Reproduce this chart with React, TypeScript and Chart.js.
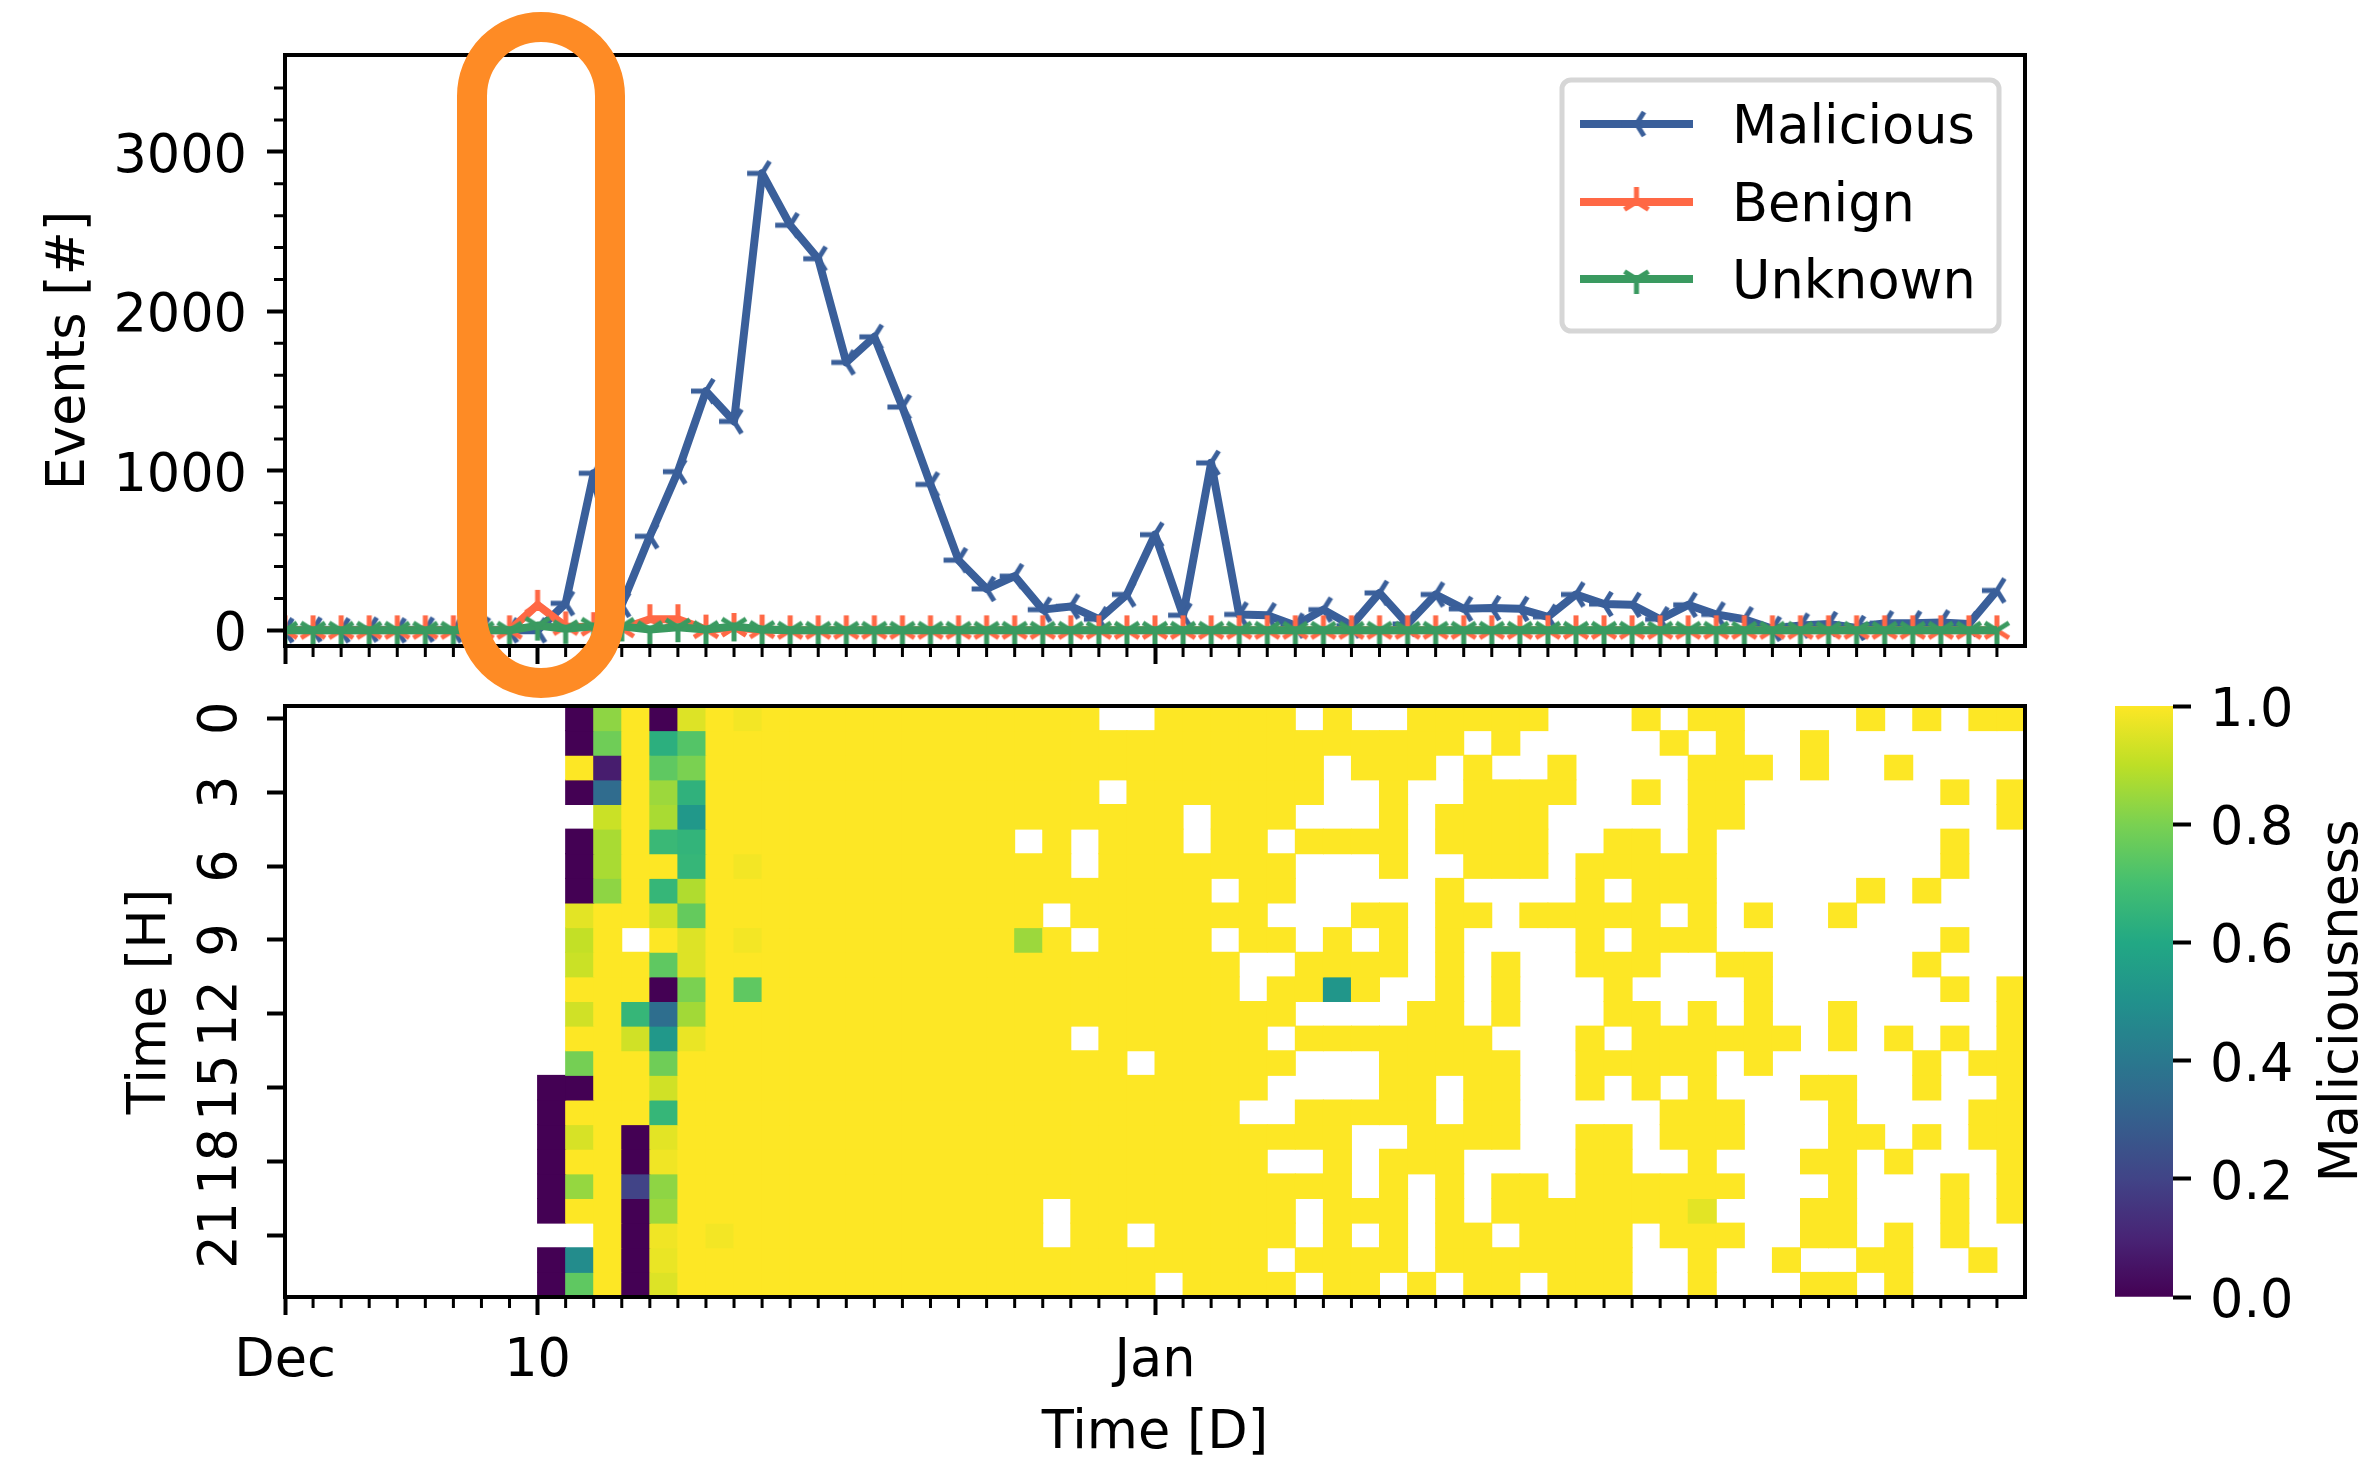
import React, { useEffect, useRef } from "react";
import { Chart, registerables } from "chart.js";

Chart.register(...registerables);

const FONT = '"DejaVu Sans"';
const FS = 52.5;

// ---------- data ----------
const dayCount = 62;
const hourCount = 24;
const malicious = [0, 5, 0, 5, 0, 5, 0, 5, 0, 0, 170, 985, 160, 590, 995, 1500, 1310, 2865, 2540, 2330, 1680, 1840, 1400, 915, 440, 260, 340, 130, 150, 70, 225, 600, 95, 1050, 100, 95, 30, 130, 30, 235, 40, 225, 135, 140, 135, 85, 225, 165, 160, 70, 160, 100, 70, 10, 30, 40, 15, 45, 45, 50, 40, 250];
const benign = [0, 0, 0, 0, 0, 0, 0, 0, 0, 160, 25, 20, 10, 70, 70, 5, 15, 5, 0, 0, 0, 0, 0, 0, 0, 0, 0, 0, 0, 0, 0, 0, 0, 0, 0, 0, 0, 0, 0, 0, 0, 0, 0, 0, 0, 0, 0, 0, 0, 0, 0, 0, 0, 0, 0, 0, 0, 0, 0, 0, 0, 0];
const unknown = [0, 0, 0, 0, 0, 0, 0, 0, 0, 30, 10, 25, 25, 5, 20, 5, 25, 5, 0, 0, 0, 0, 0, 0, 0, 0, 0, 0, 0, 0, 0, 0, 0, 0, 0, 0, 0, 0, 0, 0, 0, 0, 0, 0, 0, 0, 0, 0, 0, 0, 0, 0, 0, 0, 0, 0, 0, 0, 0, 0, 0, 0];
const eventTicks = [0, 200, 400, 600, 800, 1000, 1200, 1400, 1600, 1800, 2000, 2200, 2400, 2600, 2800, 3000, 3200, 3400];
const hourTicks = [0, 3, 6, 9, 12, 15, 18, 21];
const dayTickLabels: Record<number, string> = { 0: "Dec", 9: "10", 31: "Jan" };
const colorbarTicks = [0, 0.2, 0.4, 0.6, 0.8, 1];

const firstDayByHour = [10, 10, 10, 10, 10, 10, 10, 10, 10, 10, 10, 10, 10, 10, 10, 9, 9, 9, 9, 9, 9, 9, 9, 9];
const blankDaysByHour = [
  [29, 30, 36, 38, 39, 45, 46, 47, 49, 52, 53, 54, 55, 57, 59],
  [42, 44, 45, 46, 47, 48, 50, 52, 53, 55, 56, 57, 58, 59, 60, 61],
  [37, 41, 43, 44, 46, 47, 48, 49, 53, 55, 56, 58, 59, 60, 61],
  [29, 37, 38, 40, 41, 46, 47, 49, 52, 53, 54, 55, 56, 57, 58, 60],
  [10, 32, 36, 37, 38, 40, 45, 46, 47, 48, 49, 52, 53, 54, 55, 56, 57, 58, 59, 60],
  [26, 28, 32, 35, 40, 45, 46, 49, 51, 52, 53, 54, 55, 56, 57, 58, 60, 61],
  [28, 36, 37, 38, 40, 41, 45, 51, 52, 53, 54, 55, 56, 57, 58, 60, 61],
  [33, 36, 37, 38, 39, 40, 42, 43, 44, 45, 47, 51, 52, 53, 54, 55, 57, 59, 60, 61],
  [27, 35, 36, 37, 40, 43, 49, 51, 53, 54, 56, 57, 58, 59, 60, 61],
  [12, 28, 33, 36, 38, 40, 42, 43, 44, 45, 47, 51, 52, 53, 54, 55, 56, 57, 58, 60, 61],
  [34, 35, 40, 42, 44, 45, 49, 50, 53, 54, 55, 56, 57, 59, 60, 61],
  [34, 39, 40, 42, 44, 45, 46, 48, 49, 50, 51, 53, 54, 55, 56, 57, 58, 60],
  [36, 37, 38, 39, 42, 44, 45, 46, 49, 51, 53, 54, 56, 57, 58, 59, 60],
  [28, 35, 43, 44, 45, 47, 54, 56, 58, 60],
  [30, 36, 37, 38, 44, 45, 51, 53, 54, 55, 56, 57, 59],
  [35, 36, 37, 38, 41, 44, 45, 47, 49, 51, 52, 53, 56, 57, 59, 60],
  [34, 35, 41, 44, 45, 46, 47, 48, 52, 53, 54, 56, 57, 58, 59],
  [38, 39, 44, 45, 48, 52, 53, 54, 57, 59],
  [35, 36, 38, 42, 43, 44, 45, 48, 49, 51, 52, 53, 56, 58, 59, 60],
  [38, 40, 42, 45, 52, 53, 54, 56, 57, 58, 60],
  [27, 36, 40, 42, 51, 52, 53, 56, 57, 58, 60],
  [9, 10, 27, 30, 36, 38, 40, 43, 48, 52, 53, 56, 58, 60, 61],
  [35, 40, 48, 49, 51, 52, 54, 55, 58, 59, 61],
  [31, 36, 39, 41, 44, 48, 49, 51, 52, 53, 56, 58, 59, 60, 61],
];
// [hour, day, maliciousness]: every other filled cell is 1.0
const partialCells: [number, number, number][] = [
  [0, 10, 0], [0, 11, 0.83], [0, 13, 0], [0, 14, 0.95], [0, 16, 0.985],
  [1, 10, 0], [1, 11, 0.78], [1, 13, 0.63], [1, 14, 0.73],
  [2, 11, 0.08], [2, 13, 0.75], [2, 14, 0.8],
  [3, 10, 0], [3, 11, 0.35], [3, 13, 0.85], [3, 14, 0.64],
  [4, 11, 0.92], [4, 13, 0.87], [4, 14, 0.53],
  [5, 10, 0], [5, 11, 0.87], [5, 13, 0.67], [5, 14, 0.65],
  [6, 10, 0], [6, 11, 0.87], [6, 14, 0.66], [6, 16, 0.985],
  [7, 10, 0], [7, 11, 0.83], [7, 13, 0.66], [7, 14, 0.88],
  [8, 10, 0.96], [8, 13, 0.93], [8, 14, 0.76],
  [9, 10, 0.91], [9, 14, 0.95], [9, 16, 0.985], [9, 26, 0.85],
  [10, 10, 0.92], [10, 13, 0.75], [10, 14, 0.95],
  [11, 13, 0], [11, 14, 0.8], [11, 16, 0.75], [11, 37, 0.52],
  [12, 10, 0.93], [12, 12, 0.66], [12, 13, 0.36], [12, 14, 0.86],
  [13, 12, 0.93], [13, 13, 0.53], [13, 14, 0.97],
  [14, 10, 0.79], [14, 13, 0.78],
  [15, 9, 0], [15, 10, 0], [15, 13, 0.93],
  [16, 9, 0], [16, 13, 0.66],
  [17, 9, 0], [17, 10, 0.94], [17, 12, 0], [17, 13, 0.96],
  [18, 9, 0], [18, 12, 0], [18, 13, 0.98],
  [19, 9, 0], [19, 10, 0.84], [19, 12, 0.2], [19, 13, 0.83],
  [20, 9, 0], [20, 12, 0], [20, 13, 0.85], [20, 50, 0.96],
  [21, 12, 0], [21, 13, 0.98], [21, 15, 0.985],
  [22, 9, 0], [22, 10, 0.48], [22, 12, 0], [22, 13, 0.97],
  [23, 9, 0], [23, 10, 0.75], [23, 12, 0], [23, 13, 0.95],
];
const viridisStops = ["#440154", "#482475", "#414487", "#355f8d", "#2a788e", "#21918c", "#22a884", "#44bf70", "#7ad151", "#bddf26", "#fde725"];

// ---------- helpers ----------
function viridis(v: number) {
  const p = Math.max(0, Math.min(1, v)) * (viridisStops.length - 1);
  const i = Math.min(Math.floor(p), viridisStops.length - 2);
  const t = p - i;
  const rgb = (h: string) => [1, 3, 5].map((k) => parseInt(h.slice(k, k + 2), 16));
  const a = rgb(viridisStops[i]);
  const b = rgb(viridisStops[i + 1]);
  return `rgb(${a.map((c, k) => Math.round(c + (b[k] - c) * t)).join(",")})`;
}

function triMarker(color: string, rotationDeg: number) {
  const c = document.createElement("canvas");
  c.width = 44;
  c.height = 44;
  const g = c.getContext("2d")!;
  g.translate(22, 22);
  g.rotate((rotationDeg * Math.PI) / 180);
  g.strokeStyle = color;
  g.lineWidth = 5;
  const r = 15;
  g.beginPath();
  for (const [x, y] of [[0, r], [0.8 * r, -0.5 * r], [-0.8 * r, -0.5 * r]]) {
    g.moveTo(0, 0);
    g.lineTo(x, y);
  }
  g.stroke();
  return c;
}

const framePlugin = {
  id: "frame",
  afterDraw(chart: any) {
    const { ctx, chartArea: a } = chart;
    ctx.save();
    ctx.strokeStyle = "#000";
    // minor ticks, at the positions the scales computed
    ctx.lineWidth = 3;
    ctx.beginPath();
    for (const id of Object.keys(chart.scales)) {
      const s = chart.scales[id];
      s.ticks.forEach((t: any) => {
        if (t.major !== false) return;
        const p = s.getPixelForValue(t.value);
        if (s.isHorizontal()) {
          ctx.moveTo(p, a.bottom);
          ctx.lineTo(p, a.bottom + 11);
        } else {
          ctx.moveTo(a.left, p);
          ctx.lineTo(a.left - 11, p);
        }
      });
    }
    ctx.stroke();
    ctx.lineWidth = 4;
    ctx.strokeRect(a.left, a.top, a.right - a.left, a.bottom - a.top);
    ctx.restore();
  },
};

const legendPlugin = {
  id: "lineLegend",
  afterDraw(chart: any) {
    const { ctx } = chart;
    const L = 1562, T = 80, W = 437, H = 251, Rd = 9;
    ctx.save();
    ctx.beginPath();
    ctx.roundRect(L, T, W, H, Rd);
    ctx.fillStyle = "rgba(255,255,255,0.8)";
    ctx.fill();
    ctx.lineWidth = 5;
    ctx.strokeStyle = "#d6d6d6";
    ctx.stroke();
    const rows = [124, 202, 279];
    chart.data.datasets.forEach((d: any, i: number) => {
      const y = rows[i];
      ctx.beginPath();
      ctx.moveTo(1580, y);
      ctx.lineTo(1693, y);
      ctx.lineWidth = d.borderWidth;
      ctx.strokeStyle = d.borderColor;
      ctx.stroke();
      const m = d.pointStyle;
      ctx.drawImage(m, 1636.5 - m.width / 2, y - m.height / 2);
      ctx.fillStyle = "#000";
      ctx.font = `${FS}px ${FONT}`;
      ctx.textBaseline = "alphabetic";
      ctx.textAlign = "left";
      ctx.fillText(d.label, 1732, y + 19);
    });
    ctx.restore();
  },
};

const colorbarTitlePlugin = {
  id: "colorbarTitle",
  afterDraw(chart: any) {
    const { ctx } = chart;
    ctx.save();
    ctx.translate(2343, 1001);
    ctx.rotate(-Math.PI / 2);
    ctx.fillStyle = "#000";
    ctx.font = `${FS}px ${FONT}`;
    ctx.textAlign = "center";
    ctx.textBaseline = "middle";
    ctx.fillText("Maliciousness", 0, 0);
    ctx.restore();
  },
};

const PLOT_LEFT = 285;
const PLOT_RIGHT = 2025;
const TOP_T = 55;
const TOP_B = 646;
const HEAT_T = 706;
const HEAT_B = 1297;
const CW = 2377;
const CH = 1461;

const tickColor = (c: any) => (c.tick && c.tick.major === false ? "rgba(0,0,0,0)" : "#000");
const majorGrid = { display: true, drawOnChartArea: false, drawTicks: true, tickLength: 18, tickWidth: 4, tickColor };
// a blank first line with a small line height nudges the label down onto its tick
const nudgedFont = { size: FS, lineHeight: 0.24 };

function dayTicks(scale: any) {
  const out: any[] = [];
  for (let d = 0; d < dayCount; d++) out.push({ value: d, major: d in dayTickLabels });
  scale.ticks = out;
}

export default function App() {
  const topRef = useRef<HTMLCanvasElement>(null);
  const heatRef = useRef<HTMLCanvasElement>(null);
  const barRef = useRef<HTMLCanvasElement>(null);

  useEffect(() => {
    Chart.defaults.font.family = FONT;
    Chart.defaults.font.size = FS;
    Chart.defaults.color = "#000";

    const series = [
      { label: "Malicious", values: malicious, color: "#3a5f9a", rot: 90, order: 3 },
      { label: "Benign", values: benign, color: "#ff6845", rot: 180, order: 2 },
      { label: "Unknown", values: unknown, color: "#3a9a60", rot: 0, order: 1 },
    ];
    const top = new Chart(topRef.current!, {
      type: "line",
      data: {
        datasets: series.map((s) => ({
          label: s.label,
          data: s.values.map((v, i) => ({ x: i, y: v })),
          borderColor: s.color,
          backgroundColor: s.color,
          borderWidth: 8,
          borderJoinStyle: "round",
          tension: 0,
          pointStyle: triMarker(s.color, s.rot),
          pointRadius: 15,
          order: s.order,
          clip: 0,
        })) as any,
      },
      options: {
        responsive: false,
        animation: false,
        events: [],
        layout: { padding: { left: 0, top: TOP_T, right: CW - PLOT_RIGHT, bottom: CH - TOP_B - 20 } },
        plugins: { legend: { display: false }, tooltip: { enabled: false } },
        scales: {
          x: {
            type: "linear",
            min: 0,
            max: dayCount,
            afterBuildTicks: dayTicks,
            afterFit: (s: any) => { s.height = 20; },
            grid: majorGrid,
            border: { display: false },
            ticks: { display: false, autoSkip: false },
          },
          y: {
            type: "linear",
            min: -98,
            max: 3607,
            afterBuildTicks: (s: any) => {
              s.ticks = eventTicks.map((v) => ({ value: v, major: v % 1000 === 0 }));
            },
            afterFit: (s: any) => { s.width = PLOT_LEFT; },
            grid: majorGrid,
            border: { display: false },
            ticks: {
              autoSkip: false,
              padding: 20,
              font: nudgedFont,
              callback: (v: any) => (Number(v) % 1000 === 0 ? ["", String(v)] : ""),
            },
            title: { display: true, text: "Events [#]", font: { size: FS }, padding: { top: 39, bottom: 0 } },
          },
        },
      } as any,
      plugins: [framePlugin, legendPlugin],
    });

    const partial = new Map(partialCells.map(([h, d, v]) => [`${h}:${d}`, v]));
    const rows = blankDaysByHour.map((blanks, h) => {
      const cells: { x: number; y: [number, number] }[] = [];
      const colors: string[] = [];
      for (let d = firstDayByHour[h]; d < dayCount; d++) {
        if (blanks.includes(d)) continue;
        const v = partial.has(`${h}:${d}`) ? partial.get(`${h}:${d}`)! : 1;
        cells.push({ x: d + 0.5, y: [h, h + 1] });
        colors.push(viridis(v));
      }
      return { data: cells, backgroundColor: colors, borderWidth: 0, inflateAmount: 0.5, grouped: false, categoryPercentage: 1, barPercentage: 1 };
    });
    const heat = new Chart(heatRef.current!, {
      type: "bar",
      data: { datasets: rows as any },
      options: {
        responsive: false,
        animation: false,
        events: [],
        layout: { padding: { left: 0, top: HEAT_T, right: CW - PLOT_RIGHT, bottom: 0 } },
        plugins: { legend: { display: false }, tooltip: { enabled: false } },
        scales: {
          x: {
            type: "linear",
            offset: false,
            min: 0,
            max: dayCount,
            afterBuildTicks: dayTicks,
            afterFit: (s: any) => { s.height = CH - HEAT_B; },
            grid: { ...majorGrid, offset: false },
            border: { display: false },
            ticks: {
              autoSkip: false,
              maxRotation: 0,
              minRotation: 0,
              padding: 16,
              callback: (v: any) => dayTickLabels[Number(v)] ?? "",
            },
            title: { display: true, text: "Time [D]", font: { size: FS, lineHeight: 1 }, padding: { top: 0, bottom: 0 } },
          },
          y: {
            type: "linear",
            reverse: true,
            min: 0,
            max: hourCount,
            afterBuildTicks: (s: any) => {
              s.ticks = hourTicks.map((h) => ({ value: h + 0.5, major: true }));
            },
            afterFit: (s: any) => { s.width = PLOT_LEFT; },
            grid: majorGrid,
            border: { display: false },
            ticks: {
              autoSkip: false,
              minRotation: 90,
              maxRotation: 90,
              crossAlign: "center",
              padding: 11,
              callback: (v: any) => String(Number(v) - 0.5),
            },
            title: { display: true, text: "Time [H]", font: { size: FS }, padding: { top: 120, bottom: 0 } },
          },
        },
      } as any,
      plugins: [framePlugin],
    });

    const bar = new Chart(barRef.current!, {
      type: "bar",
      data: {
        labels: [""],
        datasets: [
          {
            data: [[0, 1]],
            borderWidth: 0,
            categoryPercentage: 1,
            barPercentage: 1,
            backgroundColor: (c: any) => {
              const a = c.chart.chartArea;
              if (!a) return viridisStops[0];
              const g = c.chart.ctx.createLinearGradient(0, a.bottom, 0, a.top);
              viridisStops.forEach((col, i) => g.addColorStop(i / (viridisStops.length - 1), col));
              return g;
            },
          },
        ] as any,
      },
      options: {
        responsive: false,
        animation: false,
        events: [],
        layout: { padding: { left: 2115, top: HEAT_T, right: 0, bottom: CH - HEAT_B } },
        plugins: { legend: { display: false }, tooltip: { enabled: false } },
        scales: {
          x: { display: false },
          y: {
            type: "linear",
            position: "right",
            min: 0,
            max: 1,
            afterBuildTicks: (s: any) => {
              s.ticks = colorbarTicks.map((v) => ({ value: v, major: true }));
            },
            afterFit: (s: any) => { s.width = CW - 2173; },
            grid: majorGrid,
            border: { display: false },
            ticks: { autoSkip: false, padding: 19, font: nudgedFont, callback: (v: any) => ["", Number(v).toFixed(1)] },
          },
        },
      } as any,
      plugins: [colorbarTitlePlugin],
    });

    return () => {
      top.destroy();
      heat.destroy();
      bar.destroy();
    };
  }, []);

  const layer: React.CSSProperties = { position: "absolute", left: 0, top: 0 };
  return (
    <div style={{ position: "fixed", left: 0, top: 0, width: CW, height: CH, background: "#fff", overflow: "hidden" }}>
      <canvas ref={topRef} width={CW} height={CH} style={layer} />
      <canvas ref={heatRef} width={CW} height={CH} style={layer} />
      <canvas ref={barRef} width={CW} height={CH} style={layer} />
      <div
        style={{
          position: "absolute",
          left: 457,
          top: 12,
          width: 168,
          height: 686,
          boxSizing: "border-box",
          border: "30px solid #fe8b25",
          borderRadius: 84,
        }}
      />
    </div>
  );
}
